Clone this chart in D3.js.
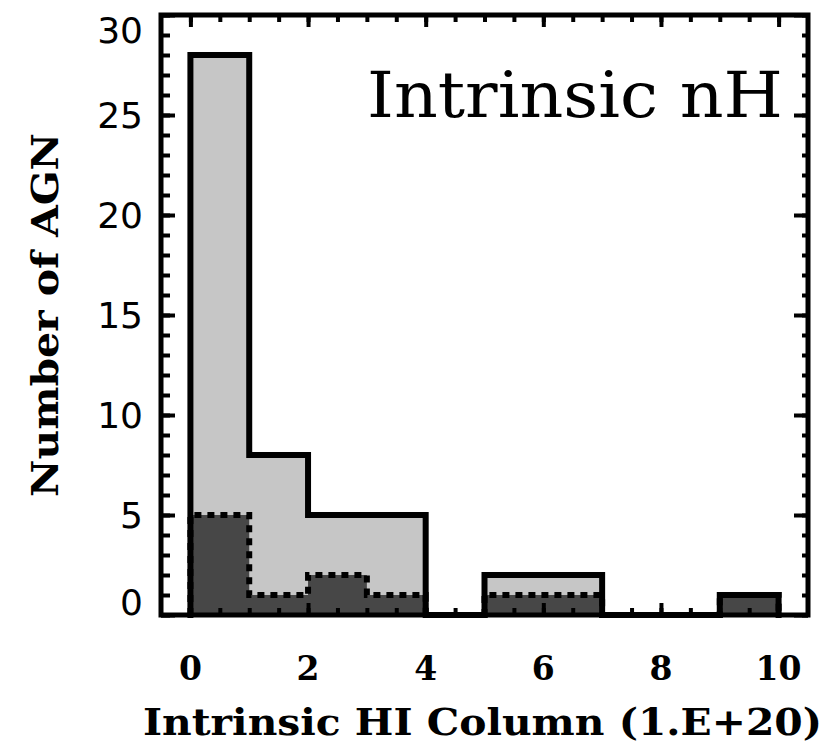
<!DOCTYPE html>
<html>
<head>
<meta charset="utf-8">
<script src="https://cdn.jsdelivr.net/npm/d3@7"></script>
<style>
  html, body { margin: 0; padding: 0; background: #fff; }
  svg { display: block; }
</style>
</head>
<body>
<svg id="chart" width="834" height="743"></svg>
<script>
// ---- data ----
const binEdges = [0, 1, 2, 3, 4, 5, 6, 7, 8, 9, 10];
const totalCounts = [28, 8, 5, 5, 0, 2, 2, 0, 0, 1];   // all AGN (light gray, solid)
const subsetCounts = [5, 1, 2, 1, 0, 1, 1, 0, 0, 1];   // subset (dark gray, dotted)
const xTickValues = [0, 2, 4, 6, 8, 10];
const yTickValues = [0, 5, 10, 15, 20, 25, 30];
const titleText = "Intrinsic nH";
const xTitle = "Intrinsic HI Column (1.E+20)";
const yTitle = "Number of AGN";

// ---- layout ----
const svg = d3.select("#chart");
const L = 161, R = 808, T = 15, B = 615;
const x = d3.scaleLinear().domain([-0.5, 10.5]).range([L, R]);
const y = d3.scaleLinear().domain([0, 30]).range([B, T]);

function stepPoints(counts) {
  const pts = [[binEdges[0], 0]];
  counts.forEach((c, i) => { pts.push([binEdges[i], c]); pts.push([binEdges[i + 1], c]); });
  pts.push([binEdges[binEdges.length - 1], 0]);
  return pts;
}
const line = d3.line().x(d => x(d[0])).y(d => y(d[1]));

const g = svg.append("g");
// fills
g.append("path").attr("d", line(stepPoints(totalCounts)) + "Z")
  .attr("fill", "#c6c6c6").attr("stroke", "none");
g.append("path").attr("d", line(stepPoints(subsetCounts)) + "Z")
  .attr("fill", "#474747").attr("stroke", "none");
// outlines
g.append("path").attr("d", line(stepPoints(totalCounts)))
  .attr("fill", "none").attr("stroke", "#000").attr("stroke-width", 6)
  .attr("stroke-linejoin", "miter").attr("stroke-linecap", "square");
g.append("path").attr("d", line(stepPoints(subsetCounts)))
  .attr("fill", "none").attr("stroke", "#000").attr("stroke-width", 6)
  .attr("stroke-dasharray", "7 6");

// ---- axes (ticks inward) ----
const xMinor = d3.range(0, 10.01, 0.5);
const yMinor = d3.range(0, 30.01, 1);
function tickStyle(sel) {
  sel.select(".domain").remove();
  sel.selectAll(".tick line").attr("stroke", "#000").attr("stroke-width", 4);
  sel.selectAll(".tick text").remove();
}
// bottom
svg.append("g").attr("transform", `translate(0,${B})`)
  .call(d3.axisBottom(x).tickValues(xMinor).tickSize(-7).tickFormat("")).call(tickStyle);
svg.append("g").attr("transform", `translate(0,${B})`)
  .call(d3.axisBottom(x).tickValues(xTickValues).tickSize(-12).tickFormat("")).call(tickStyle);
// top
svg.append("g").attr("transform", `translate(0,${T})`)
  .call(d3.axisTop(x).tickValues(xMinor).tickSize(-7).tickFormat("")).call(tickStyle);
svg.append("g").attr("transform", `translate(0,${T})`)
  .call(d3.axisTop(x).tickValues(xTickValues).tickSize(-12).tickFormat("")).call(tickStyle);
// left
svg.append("g").attr("transform", `translate(${L},0)`)
  .call(d3.axisLeft(y).tickValues(yMinor).tickSize(-9).tickFormat("")).call(tickStyle);
svg.append("g").attr("transform", `translate(${L},0)`)
  .call(d3.axisLeft(y).tickValues(yTickValues).tickSize(-14).tickFormat("")).call(tickStyle);
// right
svg.append("g").attr("transform", `translate(${R},0)`)
  .call(d3.axisRight(y).tickValues(yMinor).tickSize(-6).tickFormat("")).call(tickStyle);
svg.append("g").attr("transform", `translate(${R},0)`)
  .call(d3.axisRight(y).tickValues(yTickValues).tickSize(-14).tickFormat("")).call(tickStyle);

// frame
svg.append("rect").attr("x", L).attr("y", T).attr("width", R - L).attr("height", B - T)
  .attr("fill", "none").attr("stroke", "#000").attr("stroke-width", 5);

// ---- tick labels ----
svg.append("g").selectAll("text").data(yTickValues).join("text")
  .attr("x", 143)
  .attr("y", d => Math.min(Math.max(y(d), T + 15), B - 13))
  .attr("dy", "0.36em")
  .attr("text-anchor", "end")
  .attr("font-family", "DejaVu Sans")
  .attr("font-size", 36)
  .text(d => d);

svg.append("g").selectAll("text").data(xTickValues).join("text")
  .attr("x", d => x(d))
  .attr("y", 680)
  .attr("text-anchor", "middle")
  .attr("font-family", "DejaVu Serif")
  .attr("font-weight", "bold")
  .attr("font-size", 33)
  .text(d => d);

// ---- titles ----
svg.append("text")
  .attr("x", 143).attr("y", 735)
  .attr("font-family", "DejaVu Serif").attr("font-weight", "bold")
  .attr("font-size", 37)
  .attr("textLength", 679).attr("lengthAdjust", "spacingAndGlyphs")
  .text(xTitle);

svg.append("text")
  .attr("transform", "translate(58,497) rotate(-90)")
  .attr("font-family", "DejaVu Serif").attr("font-weight", "bold")
  .attr("font-size", 37)
  .attr("textLength", 364).attr("lengthAdjust", "spacingAndGlyphs")
  .text(yTitle);

svg.append("text")
  .attr("x", 367).attr("y", 117)
  .attr("font-family", "DejaVu Serif")
  .attr("font-size", 64)
  .attr("textLength", 416).attr("lengthAdjust", "spacingAndGlyphs")
  .text(titleText);
</script>
</body>
</html>
